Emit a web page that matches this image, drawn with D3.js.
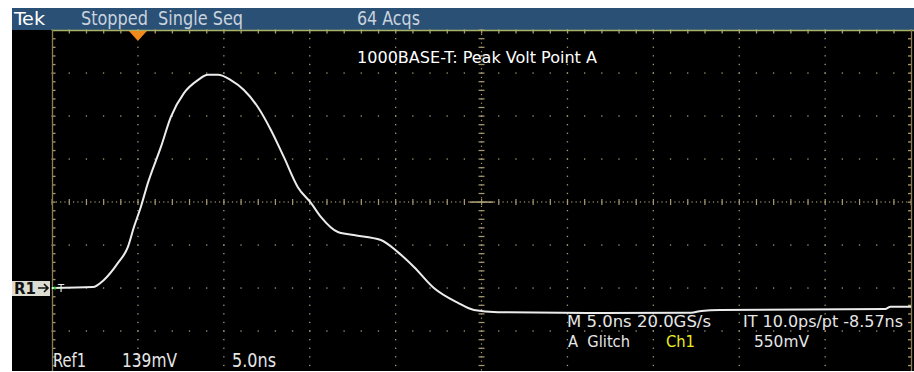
<!DOCTYPE html>
<html>
<head>
<meta charset="utf-8">
<script src="https://cdn.jsdelivr.net/npm/d3@7"></script>
<style>
  html, body { margin: 0; padding: 0; background: #fff; }
  svg { display: block; }
  text { white-space: pre; }
</style>
</head>
<body>
<div id="chart"></div>
<script>
// waveform samples, time in ns (trigger at 0), volts in mV (R1 ground = 0)
const times = [-5.0, -2.62, -1.98, -1.16, -0.58, -0.23, 0.17, 0.58, 1.34, 1.92, 2.68, 3.49, 4.07, 4.66,
  5.41, 6.17, 6.98, 7.74, 8.50, 9.31, 10.07, 10.65, 11.64, 12.57, 14.14, 15.13, 16.07, 17.23,
  18.63, 19.56, 20.96, 26.95, 32.2, 32.8, 33.9, 43.5, 43.8, 45.0];
const volts = [0, 3, 26, 81, 133, 197, 262, 339, 456, 553, 630, 672, 689, 689,
  672, 640, 585, 511, 423, 326, 275, 230, 181, 171, 155, 116, 68, 0,
  -48, -71, -78, -81, -80, -74, -71, -68, -61, -61];

const voltsPerDiv = 139;   // mV
const timePerDiv = 5.0;    // ns
const xDivs = d3.range(0, 11);   // 10 horizontal divisions
const yDivs = d3.range(-2, 7);   // divisions relative to R1 ground

const headerTexts = ["Tek", "Stopped  Single Seq", "64 Acqs"];
const bottomLeft = ["Ref1", "139mV", "5.0ns"];
const readout1 = ["M 5.0ns 20.0GS/s", "IT 10.0ps/pt -8.57ns"];
const readout2 = ["A  Glitch", "Ch1", "550mV"];
const title = "1000BASE-T: Peak Volt Point A";

const width = 914, height = 372;
const gLeft = 52, gRight = 911, gTop = 30, gBottom = 374;

const svg = d3.select("#chart").append("svg")
  .attr("width", width)
  .attr("height", height)
  .attr("viewBox", [0, 0, width, height]);

const font = "'Liberation Sans Narrow', 'DejaVu Sans Condensed', sans-serif";

// scales
const x = d3.scaleLinear().domain([-timePerDiv, 9 * timePerDiv]).range([gLeft, gRight]);
const y = d3.scaleLinear().domain([-2 * voltsPerDiv, 6 * voltsPerDiv]).range([gBottom, gTop]);
const xd = d => x(-timePerDiv + d * timePerDiv);
const yd = d => y(d * voltsPerDiv);

// background
svg.append("rect").attr("x", 12).attr("y", 30).attr("width", 902).attr("height", 341).attr("fill", "#000");
svg.append("rect").attr("x", 12).attr("y", 8).attr("width", 902).attr("height", 22).attr("fill", "#2a5076");

const dotColor = "#a79a72";
const grid = svg.append("g").attr("fill", dotColor);

// dotted major lines
xDivs.filter(d => d > 0 && d < 10 && d !== 5).forEach(d => {
  d3.range(0, 41).forEach(k => {
    const yy = gTop + k * (yd(5) - yd(6)) / 5;
    grid.append("rect").attr("x", xd(d) - 0.6).attr("y", yy - 0.6).attr("width", 1.3).attr("height", 1.3);
  });
});
yDivs.filter(d => d > -2 && d !== 2).forEach(d => {
  d3.range(0, 51).forEach(k => {
    const xx = gLeft + k * (xd(1) - xd(0)) / 5;
    grid.append("rect").attr("x", xx - 0.6).attr("y", yd(d) - 0.6).attr("width", 1.3).attr("height", 1.3);
  });
});

// center lines with fine dots and ticks
const cx = xd(5), cy = yd(2);
d3.range(0, 201).forEach(k => {
  const xx = gLeft + k * (gRight - gLeft) / 200;
  grid.append("rect").attr("x", xx - 0.5).attr("y", cy - 0.6).attr("width", 1.2).attr("height", 1.2);
});
d3.range(0, 51).forEach(k => {
  const xx = gLeft + k * (gRight - gLeft) / 50;
  grid.append("rect").attr("x", xx - 0.5).attr("y", cy - 3).attr("width", 1.2).attr("height", 6);
});
d3.range(0, 81).forEach(k => {
  const yy = gTop + k * (gBottom - gTop) / 80;
  grid.append("rect").attr("x", cx - 0.6).attr("y", yy - 0.5).attr("width", 1.2).attr("height", 1.2);
});
d3.range(0, 41).forEach(k => {
  const yy = gTop + k * (gBottom - gTop) / 40;
  grid.append("rect").attr("x", cx - 3).attr("y", yy - 0.5).attr("width", 6).attr("height", 1.2);
});
grid.append("rect").attr("x", cx - 12).attr("y", cy - 0.7).attr("width", 24).attr("height", 1.6);

// borders with ticks
svg.append("line").attr("x1", gLeft).attr("x2", 914).attr("y1", gTop + 0.5).attr("y2", gTop + 0.5)
  .attr("stroke", "#a9b266").attr("stroke-width", 1.5);
svg.append("line").attr("x1", gLeft + 0.5).attr("x2", gLeft + 0.5).attr("y1", gTop).attr("y2", 371)
  .attr("stroke", "#8d7d52").attr("stroke-width", 1.3);
svg.append("line").attr("x1", gRight + 0.5).attr("x2", gRight + 0.5).attr("y1", gTop).attr("y2", 371)
  .attr("stroke", "#8d7d52").attr("stroke-width", 1.3);
d3.range(1, 50).forEach(k => {
  const xx = gLeft + k * (gRight - gLeft) / 50;
  grid.append("rect").attr("x", xx - 0.5).attr("y", gTop).attr("width", 1.3).attr("height", 3.5);
});
d3.range(1, 40).forEach(k => {
  const yy = gTop + k * (gBottom - gTop) / 40;
  grid.append("rect").attr("x", gLeft).attr("y", yy - 0.5).attr("width", 3.5).attr("height", 1.3);
  grid.append("rect").attr("x", gRight - 3).attr("y", yy - 0.5).attr("width", 3.5).attr("height", 1.3);
});

// trigger marker
svg.append("path")
  .attr("d", `M${x(0) - 9},${gTop + 1}L${x(0) + 9},${gTop + 1}L${x(0)},${gTop + 11}Z`)
  .attr("fill", "#f08a1c");

// waveform
const data = times.map((t, i) => ({t, v: volts[i]}));
const line = d3.line().x(d => x(d.t)).y(d => y(d.v)).curve(d3.curveMonotoneX);
svg.append("path")
  .datum(data)
  .attr("fill", "none")
  .attr("stroke", "#ececec")
  .attr("stroke-width", 2)
  .attr("d", line);

// R1 marker
const ry = y(0);
svg.append("rect").attr("x", 12).attr("y", ry - 7).attr("width", 38).attr("height", 15).attr("fill", "#dcdcd2");
svg.append("text").attr("x", 14).attr("y", ry + 6).attr("fill", "#111")
  .attr("font-family", font).attr("font-weight", "bold").attr("font-size", 16)
  .attr("textLength", 22).attr("lengthAdjust", "spacingAndGlyphs").text("R1");
svg.append("path").attr("d", `M38,${ry}L48,${ry}M44,${ry - 4}L48,${ry}L44,${ry + 4}`)
  .attr("stroke", "#111").attr("stroke-width", 1.6).attr("fill", "none");
svg.append("circle").attr("cx", 55).attr("cy", ry).attr("r", 1.5).attr("fill", "#3cdc3c");
svg.append("text").attr("x", 58).attr("y", ry + 4).attr("fill", "#eee")
  .attr("font-family", font).attr("font-size", 11).text("T");

// texts
function label(str, xx, yy, w, size, color) {
  svg.append("text")
    .attr("x", xx).attr("y", yy)
    .attr("fill", color)
    .attr("font-family", font)
    .attr("font-size", size)
    .attr("textLength", w)
    .attr("lengthAdjust", "spacingAndGlyphs")
    .text(str);
}

label(headerTexts[0], 14, 25, 31, 18, "#ffffff");
label(headerTexts[1], 81, 25, 162, 20, "#c9d3dd");
label(headerTexts[2], 357, 25, 63, 20, "#c9d3dd");

label(title, 357, 63, 240, 16, "#ffffff");

label(bottomLeft[0], 53, 367, 33, 20, "#e6e6e6");
label(bottomLeft[1], 122, 367, 55, 20, "#e6e6e6");
label(bottomLeft[2], 232, 367, 44, 20, "#e6e6e6");

label(readout1[0], 567, 327, 144, 16, "#e6e6e6");
label(readout1[1], 743, 327, 160, 16, "#e6e6e6");
label(readout2[0], 568, 347, 62, 16, "#e6e6e6");
label(readout2[1], 666, 347, 29, 16, "#ecec20");
label(readout2[2], 754, 347, 55, 16, "#e6e6e6");
</script>
</body>
</html>
